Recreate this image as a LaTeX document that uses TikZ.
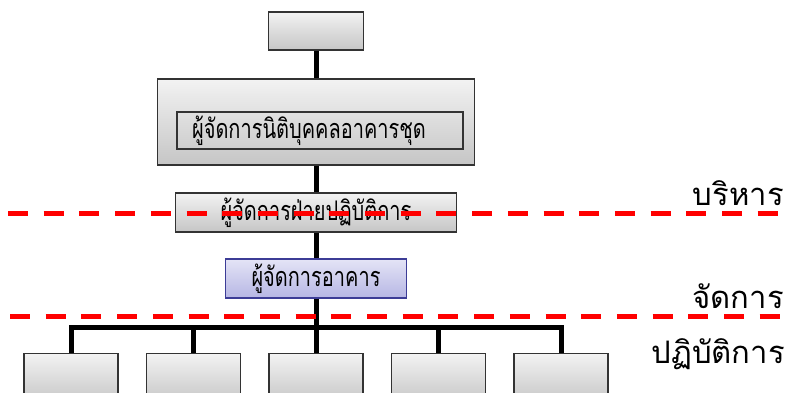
\documentclass[tikz,border=0pt]{standalone}
\usepackage{fontspec}
\newfontfamily\thaifont[Script=Thai]{Loma}
\newfontfamily\boxfont[Script=Thai,FakeStretch=0.74]{Loma}
\usetikzlibrary{positioning}
\definecolor{boxline}{RGB}{51,51,51}
\definecolor{blueline}{RGB}{60,60,150}
\definecolor{bluetop}{RGB}{228,228,246}
\definecolor{bluebot}{RGB}{182,182,228}

\begin{document}
\begin{tikzpicture}[
x=1pt,
y=-1pt,
graybox/.style={
  draw=boxline,
  line width=1.2pt,
  top color=gray!10,
  bottom color=gray!45,
  inner sep=0pt,
  font=\boxfont\fontsize{27}{29}\selectfont
  },
bluebox/.style={
  graybox,
  draw=blueline,
  top color=bluetop,
  bottom color=bluebot
  },
framebox/.style={
  draw=boxline,
  line width=1.2pt,
  fill=none,
  inner sep=0pt,
  font=\boxfont\fontsize{27}{29}\selectfont
  },
link/.style={
  line width=5pt
  },
cut/.style={
  red,
  line width=5pt,
  dash pattern=on 20pt off 15.7pt
  },
level/.style={
  anchor=base east,
  inner sep=0pt,
  font=\thaifont\fontsize{31}{34}\selectfont
  }
]
\useasboundingbox (0,0) rectangle (790,392);

% chain of managers
\node[graybox, minimum width=95pt, minimum height=38pt] (owner) at (316,31) {};
\node[graybox, minimum width=317pt, minimum height=86pt] (board) at (316,122) {};
\node[framebox, minimum width=286pt, minimum height=37pt] (juristic) at (320,130.5) {ผู้จัดการนิติบุคคลอาคารชุด\kern22pt};
\node[graybox, minimum width=281pt, minimum height=39pt] (ops) at (316,212.5) {ผู้จัดการฝ่ายปฏิบัติการ};
\node[bluebox, minimum width=181pt, minimum height=39pt] (bldg) at (316,278.5) {ผู้จัดการอาคาร};

% staff row
\foreach \i in {1,...,5}
  \node[graybox, minimum width=94pt, minimum height=50pt, anchor=north] (staff\i) at ({71+122.5*(\i-1)},353) {};

\coordinate (bus) at (316,327);

\draw[link] (owner) -- (board);
\draw[link] (board) -- (ops);
\draw[link] (ops) -- (bldg);
\draw[link] (bldg) -- (bus);
\draw[link] (staff1.north) |- (bus) -| (staff5.north);
\foreach \i in {2,3,4}
  \draw[link] (staff\i.north) -- (staff\i.north |- bus);

% level cuts
\coordinate (cutA) at (8,213);
\coordinate (cutB) at (10,316);
\draw[cut] (cutA) -- (cutA -| 790,0);
\draw[cut] (cutB) -- (cutB -| 790,0);

\node[level] (exec) at (784,205) {บริหาร};
\node[level] (mgmt) at (784,308) {จัดการ};
\node[level] (oper) at (785,363) {ปฏิบัติการ};

\end{tikzpicture}
\end{document}
